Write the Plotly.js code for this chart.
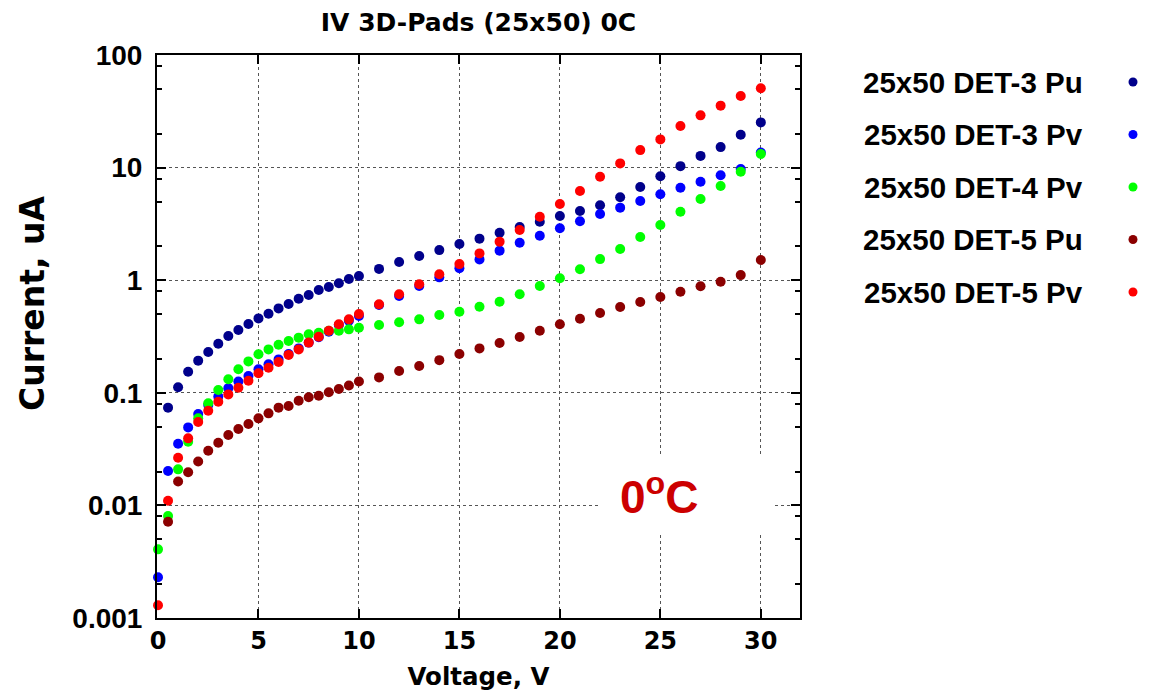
<!DOCTYPE html>
<html>
<head>
<meta charset="utf-8">
<script src="https://cdn.plot.ly/plotly-3.0.1.min.js"></script>
<style>html,body{margin:0;padding:0;background:#fff;}#chart{width:1152px;height:695px;}</style>
</head>
<body>
<div id="chart"></div>
<script>
// ---- data ----
const chartTitle = "IV 3D-Pads (25x50) 0C";
const xTitle = "Voltage, V";
const yTitle = "Current, uA";
const tempLabel = "0<sup>o</sup>C";

const seriesNames = ["25x50 DET-3 Pu", "25x50 DET-3 Pv", "25x50 DET-4 Pv", "25x50 DET-5 Pu", "25x50 DET-5 Pv"];
const seriesColors = ["#00008b", "#0000ff", "#00ff00", "#8b0000", "#ff0000"];

const voltsFrom0 = [0, 0.5, 1, 1.5, 2, 2.5, 3, 3.5, 4, 4.5, 5, 5.5, 6, 6.5, 7, 7.5, 8, 8.5, 9, 9.5, 10,
  11, 12, 13, 14, 15, 16, 17, 18, 19, 20, 21, 22, 23, 24, 25, 26, 27, 28, 29, 30];
const voltsFromHalf = [0.5, 1, 1.5, 2, 2.5, 3, 3.5, 4, 4.5, 5, 5.5, 6, 6.5, 7, 7.5, 8, 8.5, 9, 9.5, 10,
  11, 12, 13, 14, 15, 16, 17, 18, 19, 20, 21, 22, 23, 24, 25, 26, 27, 28, 29, 30];

const det3Pu = [0.0738, 0.112, 0.154, 0.193, 0.230, 0.273, 0.319, 0.361, 0.408, 0.458, 0.504, 0.562, 0.615, 0.685, 0.739, 0.818, 0.871, 0.938, 1.025, 1.09,
  1.26, 1.45, 1.64, 1.85, 2.10, 2.34, 2.64, 2.97, 3.31, 3.72, 4.12, 4.63, 5.45, 6.73, 8.37, 10.3, 12.7, 15.2, 19.6, 25.2];
const det3Pv = [0.0023, 0.0202, 0.0353, 0.0493, 0.0648, 0.078, 0.0925, 0.110, 0.126, 0.141, 0.162, 0.179, 0.198, 0.221, 0.248, 0.279, 0.311, 0.349, 0.40, 0.437, 0.481,
  0.602, 0.724, 0.889, 1.06, 1.28, 1.53, 1.83, 2.15, 2.48, 2.89, 3.34, 3.87, 4.41, 5.05, 5.79, 6.63, 7.5, 8.55, 9.73, 13.6];
const det4Pv = [0.00407, 0.00805, 0.0209, 0.0368, 0.0593, 0.0807, 0.106, 0.132, 0.162, 0.190, 0.220, 0.243, 0.267, 0.288, 0.309, 0.331, 0.342, 0.356, 0.356, 0.366, 0.378,
  0.40, 0.423, 0.449, 0.491, 0.525, 0.582, 0.644, 0.75, 0.889, 1.04, 1.25, 1.54, 1.89, 2.42, 3.09, 4.05, 5.26, 6.87, 9.2, 13.2];
const det5Pu = [0.00717, 0.0163, 0.0197, 0.0245, 0.0306, 0.036, 0.0422, 0.0477, 0.0528, 0.0593, 0.0657, 0.0738, 0.0764, 0.0851, 0.0912, 0.0942, 0.101, 0.108, 0.116, 0.126,
  0.137, 0.156, 0.173, 0.195, 0.221, 0.248, 0.277, 0.313, 0.356, 0.406, 0.455, 0.512, 0.578, 0.64, 0.71, 0.791, 0.883, 0.97, 1.11, 1.51];
const det5Pv = [0.0013, 0.011, 0.0265, 0.0394, 0.055, 0.0693, 0.0834, 0.0968, 0.111, 0.128, 0.149, 0.167, 0.188, 0.217, 0.243, 0.279, 0.315, 0.356, 0.406, 0.449, 0.50,
  0.61, 0.75, 0.92, 1.13, 1.39, 1.73, 2.20, 2.79, 3.66, 4.75, 6.2, 8.3, 10.9, 14.3, 17.8, 23.4, 29.1, 35.5, 43.3, 50.6];

const seriesX = [voltsFromHalf, voltsFrom0, voltsFrom0, voltsFromHalf, voltsFrom0];
const seriesY = [det3Pu, det3Pv, det4Pv, det5Pu, det5Pv];

const xTickVals = [0, 5, 10, 15, 20, 25, 30];
const yTickVals = [0.001, 0.01, 0.1, 1, 10, 100];
const yTickText = ["0.001", "0.01", "0.1", "1", "10", "100"];
const yMinorVals = [0.002, 0.005, 0.008, 0.02, 0.05, 0.08, 0.2, 0.5, 0.8, 2, 5, 8, 20, 50, 80];

// ---- layout geometry ----
const W = 1152, H = 695;
const L = 157, R = 800, T = 55, B = 618;
const px2x = p => (p - L) / (R - L);
const py2y = p => (B - p) / (B - T);

const traces = seriesNames.map((name, i) => ({
  type: 'scatter', mode: 'markers', name: name,
  x: seriesX[i], y: seriesY[i],
  marker: {color: seriesColors[i], size: 10, line: {width: 0}},
  cliponaxis: false, showlegend: false, hoverinfo: 'x+y+name'
}));

const shapes = [];
const annotations = [];

// legend: right-aligned text, dot on the right
const legTextRight = 1085, legDotX = 1133, legRow0 = 82, legStep = 52.5;
seriesNames.forEach((name, i) => {
  const yy = legRow0 + i * legStep;
  annotations.push({
    xref: 'paper', yref: 'paper', x: px2x(legTextRight), y: py2y(yy),
    xanchor: 'right', yanchor: 'middle', showarrow: false, text: name,
    font: {family: 'Liberation Sans, Arial, sans-serif', size: 29.5, color: '#000', weight: 'bold'}
  });
  shapes.push({
    type: 'circle', xref: 'paper', yref: 'paper', xsizemode: 'pixel', ysizemode: 'pixel',
    xanchor: px2x(legDotX), yanchor: py2y(yy), x0: -4.5, x1: 4.5, y0: -4.5, y1: 4.5,
    fillcolor: seriesColors[i], line: {width: 0}
  });
});

// y-axis title placed as rotated text left of the tick labels
annotations.push({
  xref: 'paper', yref: 'paper', x: px2x(32), y: py2y(304),
  xanchor: 'center', yanchor: 'middle', textangle: -90, showarrow: false, text: yTitle,
  font: {family: 'DejaVu Sans, sans-serif', size: 33, color: '#000', weight: 'bold'}
});

// white box behind the temperature label (breaks the grid)
shapes.push({
  type: 'rect', xref: 'paper', yref: 'paper', layer: 'above',
  x0: px2x(600), x1: px2x(775), y0: py2y(532), y1: py2y(457),
  fillcolor: '#ffffff', line: {width: 0}
});
annotations.push({
  xref: 'paper', yref: 'paper', x: px2x(659), y: py2y(494),
  xanchor: 'center', yanchor: 'middle', showarrow: false, text: tempLabel,
  font: {family: 'Liberation Sans, Arial, sans-serif', size: 46, color: '#cc0000', weight: 'bold'}
});

const layout = {
  width: W, height: H,
  margin: {l: L, r: W - R, t: T, b: H - B, pad: 0},
  paper_bgcolor: '#fff', plot_bgcolor: '#fff',
  showlegend: false,
  title: {
    text: chartTitle, x: (L + R) / 2 / W, xanchor: 'center', y: 1 - 22 / H, yanchor: 'middle',
    font: {family: 'DejaVu Sans, sans-serif', size: 25, color: '#000', weight: 'bold'}
  },
  xaxis: {
    range: [-0.05, 31.95], tickmode: 'array', tickvals: xTickVals,
    ticks: 'inside', ticklen: 9, tickwidth: 2, tickcolor: '#000',
    showline: true, linecolor: '#000', linewidth: 2, mirror: 'ticks',
    showgrid: true, gridcolor: '#555', griddash: 'dot', gridwidth: 1, zeroline: false,
    tickfont: {family: 'DejaVu Sans, sans-serif', size: 24, color: '#000', weight: 'bold'},
    title: {text: xTitle, standoff: 14, font: {family: 'DejaVu Sans, sans-serif', size: 24.5, color: '#000', weight: 'bold'}},
    automargin: false
  },
  yaxis: {
    type: 'log', range: [-3, 2], tickmode: 'array', tickvals: yTickVals, ticktext: yTickText,
    ticks: 'inside', ticklen: 9, tickwidth: 2, tickcolor: '#000',
    showline: true, linecolor: '#000', linewidth: 2, mirror: 'ticks',
    showgrid: true, gridcolor: '#555', griddash: 'dot', gridwidth: 1, zeroline: false,
    minor: {tickmode: 'array', tickvals: yMinorVals, ticks: 'inside', ticklen: 5, tickwidth: 2, tickcolor: '#000', showgrid: false},
    tickfont: {family: 'Liberation Sans, Arial, sans-serif', size: 28, color: '#000', weight: 'bold'},
    ticklabelstandoff: 7,
    automargin: false
  },
  shapes: shapes,
  annotations: annotations
};

Plotly.newPlot('chart', traces, layout, {displayModeBar: false, staticPlot: true});
</script>
</body>
</html>
